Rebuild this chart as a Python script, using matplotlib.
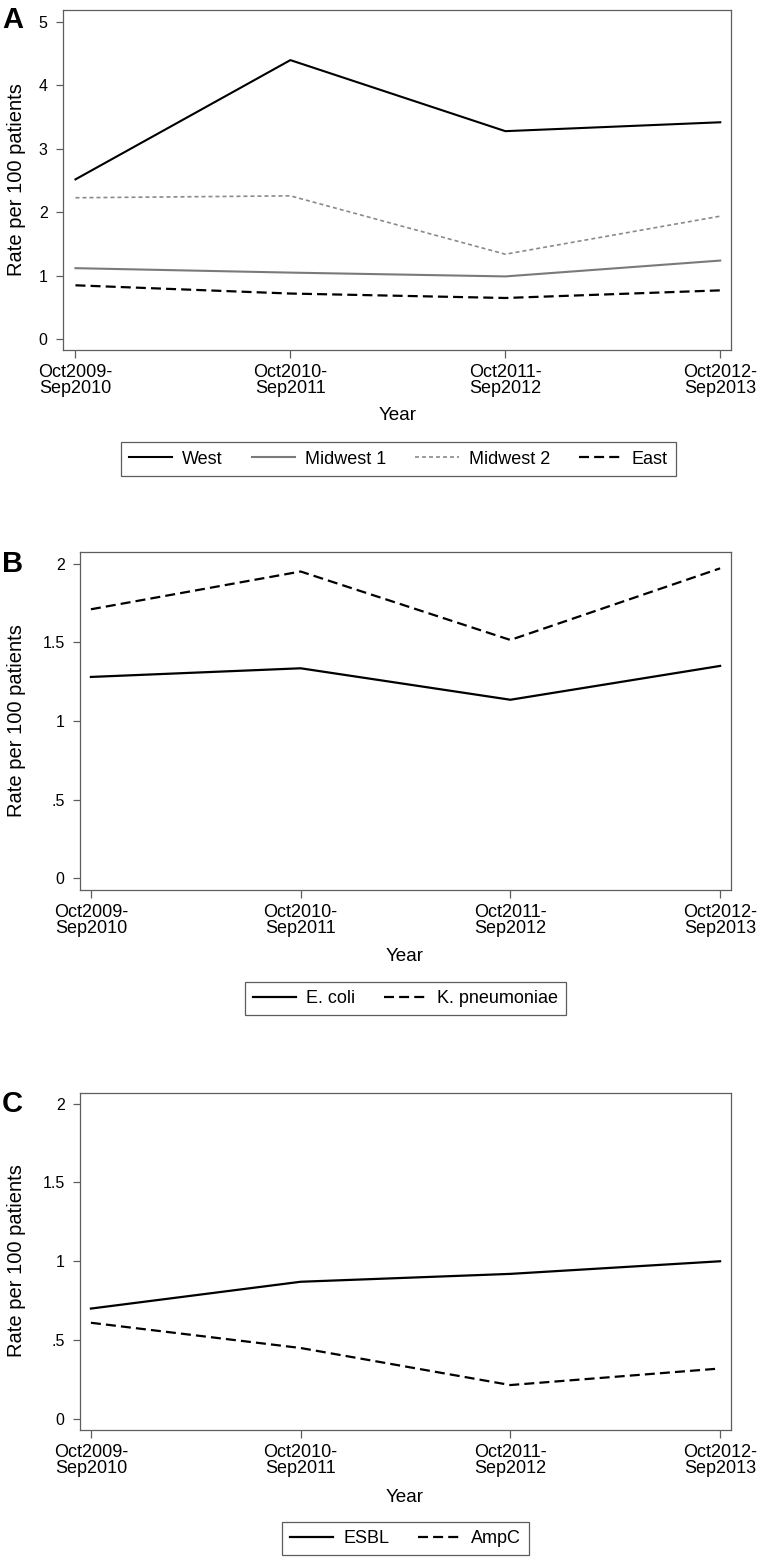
import matplotlib
matplotlib.use("Agg")
import matplotlib.pyplot as plt
from matplotlib import font_manager

# ---------------- data ----------------
periods = ["Oct2009-\nSep2010", "Oct2010-\nSep2011", "Oct2011-\nSep2012", "Oct2012-\nSep2013"]

west = [2.52, 4.40, 3.28, 3.42]
midwest1 = [1.12, 1.05, 0.99, 1.24]
midwest2 = [2.23, 2.26, 1.34, 1.94]
east = [0.85, 0.72, 0.65, 0.77]

ecoli = [1.28, 1.335, 1.135, 1.35]
kpneu = [1.71, 1.95, 1.515, 1.97]

esbl = [0.70, 0.87, 0.92, 1.00]
ampc = [0.61, 0.45, 0.215, 0.32]

yticks_a = [0, 1, 2, 3, 4, 5]
ytick_labels_a = ["0", "1", "2", "3", "4", "5"]
yticks_bc = [0, 0.5, 1, 1.5, 2]
ytick_labels_bc = ["0", ".5", "1", "1.5", "2"]

# ---------------- style ----------------
names = {f.name for f in font_manager.fontManager.ttflist}
FONT = "Liberation Sans" if "Liberation Sans" in names else "DejaVu Sans"
plt.rcParams["font.family"] = [FONT, "DejaVu Sans"]

W, H = 760, 1559
fig = plt.figure(figsize=(W / 100, H / 100), dpi=100)

SPINE = "#5e5e5e"


def fx(px):
    return px / W


def fy(py):
    return 1 - py / H


def make_axes(left, right, top, bottom):
    return fig.add_axes([fx(left), fy(bottom), fx(right) - fx(left), fy(top) - fy(bottom)])


def style_axes(ax, xlim, ylim, yticks, ylabels):
    ax.set_xlim(*xlim)
    ax.set_ylim(*ylim)
    ax.set_xticks(range(len(periods)))
    ax.set_xticklabels(periods, fontsize=13, linespacing=0.95)
    ax.set_yticks(yticks)
    ax.set_yticklabels(ylabels, fontsize=11.5)
    for s in ax.spines.values():
        s.set_color(SPINE)
        s.set_linewidth(0.9)
    ax.tick_params(axis="both", direction="out", color=SPINE, width=0.9, colors="black")
    ax.tick_params(axis="y", length=5, pad=6, labelcolor="black")
    ax.tick_params(axis="x", length=6, pad=4, labelcolor="black")


BLACK = "#000000"
GRAY1 = "#7a7a7a"
GRAY2 = "#8a8a8a"

# ---------------- Panel A ----------------
axA = make_axes(63, 731, 10, 350)
x = list(range(len(periods)))
l1, = axA.plot(x, west, color=BLACK, lw=1.5, label="West")
l2, = axA.plot(x, midwest1, color=GRAY1, lw=1.5, label="Midwest 1")
l3, = axA.plot(x, midwest2, color=GRAY2, lw=1.2, label="Midwest 2")
l3.set_dashes([2.4, 1.8])
l4, = axA.plot(x, east, color=BLACK, lw=1.6, label="East")
l4.set_dashes([4.5, 2.3])
style_axes(axA, (-0.058, 3.05), (-0.17, 5.19), yticks_a, ytick_labels_a)

# ---------------- Panel B ----------------
axB = make_axes(80, 731, 552, 890)
b1, = axB.plot(x, ecoli, color=BLACK, lw=1.6, label="E. coli")
b2, = axB.plot(x, kpneu, color=BLACK, lw=1.6, label="K. pneumoniae")
b2.set_dashes([4.5, 2.3])
style_axes(axB, (-0.052, 3.052), (-0.074, 2.074), yticks_bc, ytick_labels_bc)

# ---------------- Panel C ----------------
axC = make_axes(80, 731, 1093, 1430)
c1, = axC.plot(x, esbl, color=BLACK, lw=1.6, label="ESBL")
c2, = axC.plot(x, ampc, color=BLACK, lw=1.6, label="AmpC")
c2.set_dashes([4.5, 2.3])
style_axes(axC, (-0.052, 3.052), (-0.07, 2.067), yticks_bc, ytick_labels_bc)

# ---------------- labels ----------------
for letter, base in (("A", 28), ("B", 572), ("C", 1112)):
    fig.text(fx(2), fy(base), letter, fontsize=21, fontweight="bold", ha="left", va="baseline")

for cy in (180, 721, 1261):
    fig.text(fx(17), fy(cy), "Rate per 100 patients", rotation=90, fontsize=14.5,
             ha="center", va="center")

for cx, cy in ((398, 415), (405, 956), (405, 1498)):
    fig.text(fx(cx), fy(cy), "Year", fontsize=13.6, ha="center", va="center")


def legend(handles, cx, cy, ncol):
    lg = fig.legend(handles=handles, loc="center", bbox_to_anchor=(fx(cx), fy(cy)),
                    ncol=ncol, fontsize=13, frameon=True, fancybox=False,
                    handlelength=2.4, handletextpad=0.55, columnspacing=1.6,
                    borderpad=0.45, borderaxespad=0)
    fr = lg.get_frame()
    fr.set_edgecolor("#333333")
    fr.set_linewidth(0.9)
    fr.set_facecolor("white")
    return lg


legend([l1, l2, l3, l4], 398.5, 459, 4)
legend([b1, b2], 405.5, 998.5, 2)
legend([c1, c2], 405.5, 1538.5, 2)

fig.savefig("out.png", dpi=100, facecolor="white")
